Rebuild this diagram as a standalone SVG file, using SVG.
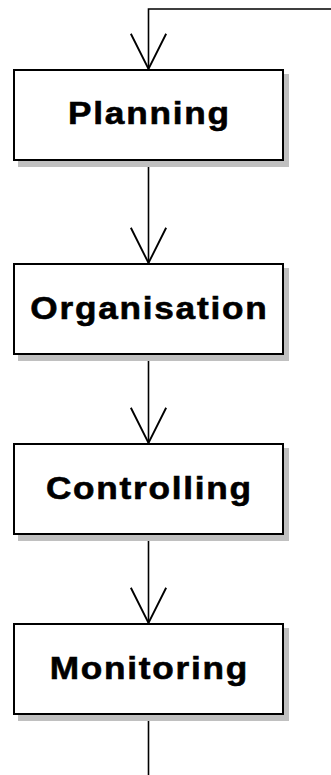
<svg xmlns="http://www.w3.org/2000/svg" width="331" height="775" viewBox="0 0 331 775">
<style>
.shadow{fill:#c0c0c0;stroke:none}
.box{fill:#fff;stroke:#000;stroke-width:2}
.lbl{font-family:"Liberation Sans",Arial,sans-serif;font-weight:bold;font-size:32px;letter-spacing:1.6px;text-anchor:middle;fill:#000;stroke:#000;stroke-width:0.6}
.conn{fill:none;stroke:#000;stroke-width:1.6}
</style>
<defs>
<marker id="arr" markerUnits="userSpaceOnUse" markerWidth="40" markerHeight="40" viewBox="-32 -17 34 34" refX="0" refY="0" orient="auto" overflow="visible">
<path d="M-30,-15 L0,0 L-30,15" fill="none" stroke="#000" stroke-width="1.6"/>
</marker>
</defs>
<rect width="331" height="775" fill="#fff"/>
<g id="connectors">
<path class="conn" d="M331,9 H148.5 V69" marker-end="url(#arr)"/>
<path class="conn" d="M148.5,161 V263" marker-end="url(#arr)"/>
<path class="conn" d="M148.5,355 V443" marker-end="url(#arr)"/>
<path class="conn" d="M148.5,535 V623" marker-end="url(#arr)"/>
<path class="conn" d="M148.5,715 V775"/>
</g>
<g id="planning">
<rect class="shadow" x="18" y="74" width="271" height="93"/>
<rect class="box" x="14" y="70" width="269" height="90"/>
<text class="lbl" transform="translate(148.5,123.5) scale(1.1,1)" x="0.8" y="0">Planning</text>
</g>
<g id="organisation">
<rect class="shadow" x="18" y="268" width="271" height="93"/>
<rect class="box" x="14" y="264" width="269" height="90"/>
<text class="lbl" transform="translate(148.5,318.5) scale(1.1,1)" x="0.8" y="0">Organisation</text>
</g>
<g id="controlling">
<rect class="shadow" x="18" y="448" width="271" height="93"/>
<rect class="box" x="14" y="444" width="269" height="90"/>
<text class="lbl" transform="translate(148.5,498.5) scale(1.1,1)" x="0.8" y="0">Controlling</text>
</g>
<g id="monitoring">
<rect class="shadow" x="18" y="628" width="271" height="93"/>
<rect class="box" x="14" y="624" width="269" height="90"/>
<text class="lbl" transform="translate(148.5,678.5) scale(1.1,1)" x="0.8" y="0">Monitoring</text>
</g>
</svg>
